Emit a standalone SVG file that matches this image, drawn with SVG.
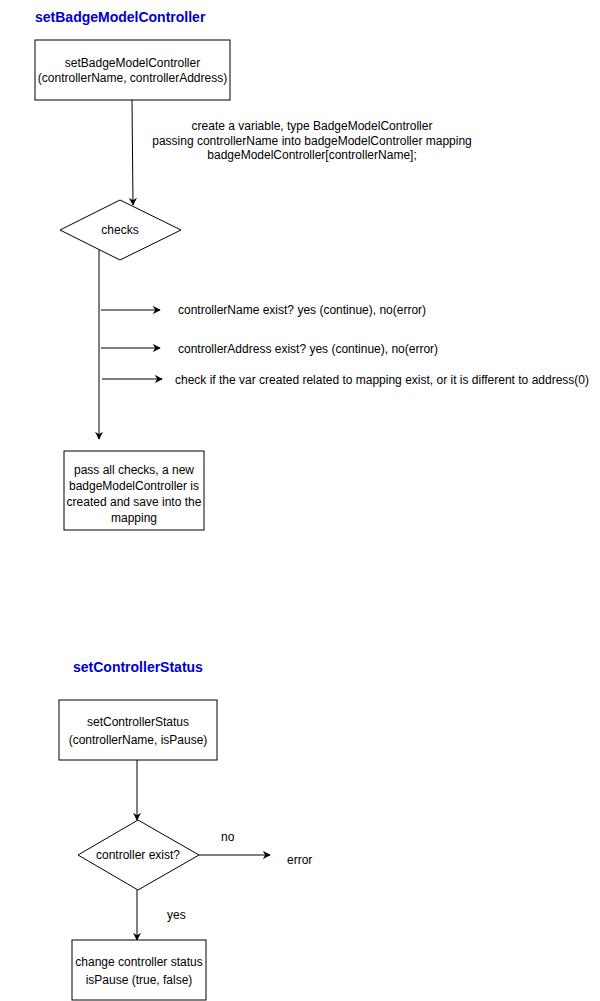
<svg xmlns="http://www.w3.org/2000/svg" width="600" height="1001" viewBox="0 0 600 1001">
<defs>
<marker id="arr" viewBox="0 0 10 10" refX="9" refY="5" markerWidth="8" markerHeight="8" markerUnits="userSpaceOnUse" orient="auto">
<path d="M0,0 L10,5 L0,10 L3,5 Z" fill="#000"/>
</marker>
<style>
text{font-family:"Liberation Sans",Arial,sans-serif;font-size:12px;fill:#000}
.t{font-weight:bold;font-size:14px;fill:#0000CC}
.c{text-anchor:middle}
.s{fill:#fff;stroke:#000;stroke-width:1}
.e{stroke:#000;stroke-width:1;fill:none;marker-end:url(#arr)}
</style>
</defs>
<rect width="600" height="1001" fill="#fff"/>
<text class="t" x="35" y="22">setBadgeModelController</text>
<text class="t" x="73" y="672">setControllerStatus</text>
<g id="connectors">
<line class="e" x1="132" y1="100" x2="133" y2="205"/>
<line class="e" x1="99" y1="250" x2="99" y2="439"/>
<line class="e" x1="101" y1="310" x2="160" y2="310"/>
<line class="e" x1="101" y1="348" x2="160" y2="348"/>
<line class="e" x1="102" y1="379" x2="162" y2="379"/>
<line class="e" x1="137" y1="760" x2="137" y2="820"/>
<line class="e" x1="199" y1="855" x2="270" y2="855"/>
<line class="e" x1="137" y1="890" x2="137" y2="940"/>
<text class="c" x="312" y="130">create a variable, type BadgeModelController</text>
<text class="c" x="312" y="145">passing controllerName into badgeModelController mapping</text>
<text class="c" x="312" y="159">badgeModelController[controllerName];</text>
<text x="178" y="314">controllerName exist? yes (continue), no(error)</text>
<text x="178" y="353">controllerAddress exist? yes (continue), no(error)</text>
<text x="175" y="384">check if the var created related to mapping exist, or it is different to address(0)</text>
<text x="221" y="841">no</text>
<text x="167" y="919">yes</text>
</g>
<g id="node-setBadge">
<rect class="s" x="35" y="40" width="195" height="60"/>
<text class="c" x="132.5" y="67">setBadgeModelController</text>
<text class="c" x="132.5" y="82">(controllerName, controllerAddress)</text>
</g>
<g id="node-checks">
<polygon class="s" points="60,230 120,200 181,230 120,260"/>
<text class="c" x="120" y="234">checks</text>
</g>
<g id="node-pass">
<rect class="s" x="64" y="451" width="140" height="79"/>
<text class="c" x="134" y="474">pass all checks, a new</text>
<text class="c" x="134" y="490">badgeModelController is</text>
<text class="c" x="134" y="506">created and save into the</text>
<text class="c" x="134" y="522">mapping</text>
</g>
<g id="node-setStatus">
<rect class="s" x="59" y="700" width="158" height="60"/>
<text class="c" x="138" y="726">setControllerStatus</text>
<text class="c" x="138" y="744">(controllerName, isPause)</text>
</g>
<g id="node-exist">
<polygon class="s" points="78,855 138,820 199,855 138,890"/>
<text class="c" x="138" y="859">controller exist?</text>
</g>
<g id="node-error">
<text x="287" y="864">error</text>
</g>
<g id="node-change">
<rect class="s" x="72" y="940" width="134" height="60"/>
<text class="c" x="139" y="966">change controller status</text>
<text class="c" x="139" y="984">isPause (true, false)</text>
</g>
</svg>
